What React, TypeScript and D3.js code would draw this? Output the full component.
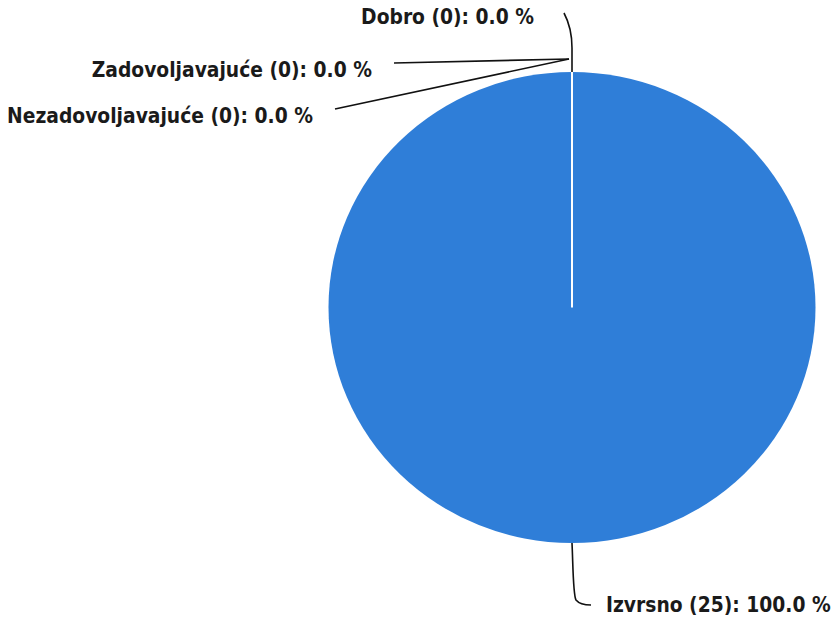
import * as d3 from 'd3';
import React, { useEffect, useRef } from 'react';

// ocjene i broj odgovora
const categories = ['Nezadovoljavajuće', 'Zadovoljavajuće', 'Dobro', 'Izvrsno'];
const values = [0, 0, 0, 25];
const colors = ['#2f7ed8', '#0d233a', '#8bbc21', '#2f7ed8'];

// pomaci oznaka od točke na rubu (dx, dy), strana oznake
const labelOffsets: [number, number, 'left' | 'right'][] = [
  [-259, 44, 'left'],
  [-200, -2, 'left'],
  [-12, -55, 'left'],
  [34, 62, 'right'],
];

const W = 835;
const H = 618;

const App = () => {
  const svgRef = useRef<SVGSVGElement>(null);

  useEffect(() => {
    const cx = 572;
    const cy = 307.5;
    const r = 243.5;
    const ky = 235.5 / 243.5;

    const svg = d3.select(svgRef.current);
    svg.selectAll('*').remove();

    const data = categories.map((name, i) => ({ name, value: values[i], color: colors[i] }));
    const total = d3.sum(values);

    const pie = d3
      .pie<{ name: string; value: number; color: string }>()
      .sort(null)
      .value((d) => d.value);
    const arcs = pie(data);

    const arc = d3
      .arc<d3.PieArcDatum<{ name: string; value: number; color: string }>>()
      .innerRadius(0)
      .outerRadius(r);

    const g = svg.append('g').attr('transform', `translate(${cx},${cy}) scale(1,${ky})`);

    g.selectAll('path.slice')
      .data(arcs.filter((a) => a.value > 0))
      .join('path')
      .attr('class', 'slice')
      .attr('d', arc)
      .attr('fill', (d) => d.data.color);

    // rub isječka (bijela linija)
    arcs
      .filter((a) => a.value > 0)
      .forEach((a) => {
        g.append('line')
          .attr('x1', 0)
          .attr('y1', 0)
          .attr('x2', r * Math.sin(a.startAngle))
          .attr('y2', -r * Math.cos(a.startAngle))
          .attr('stroke', '#fff')
          .attr('stroke-width', 2);
      });

    const labels = svg.append('g');
    arcs.forEach((a, i) => {
      const mid = a.value > 0 ? (a.startAngle + a.endAngle) / 2 : a.startAngle;
      const ex = cx + r * Math.sin(mid);
      const ey = cy - r * ky * Math.cos(mid);
      const [dx, dy, side] = labelOffsets[i];
      const lx = ex + dx;
      const ly = ey + dy;
      let path: string;
      if (side === 'right') {
        path = `M${ex},${ey} C${ex + 1},${ey + 20} ${ex + 1},${ly - 10} ${ex + 4},${ly - 5} Q${ex + 8},${ly} ${lx - 15},${ly}`;
      } else if (i === 2) {
        path = `M${ex},${ey} L${ex},${ey - 24} Q${ex},${ey - 44} ${ex - 8},${ly - 4}`;
      } else {
        path = `M${ex - 3},${ey - 13} L${lx + 22},${ly - 7}`;
      }
      labels
        .append('path')
        .attr('d', path)
        .attr('fill', 'none')
        .attr('stroke', '#111')
        .attr('stroke-width', 1.6);
      const pct = total ? (a.data.value / total) * 100 : 0;
      labels
        .append('text')
        .attr('x', side === 'right' ? lx : lx - (i === 2 ? 26 : 0))
        .attr('y', ly)
        .attr('dy', '0.36em')
        .attr('text-anchor', side === 'right' ? 'start' : 'end')
        .attr('font-family', '"DejaVu Sans Condensed", "DejaVu Sans", sans-serif')
        .attr('font-weight', 'bold')
        .attr('font-size', 20.8)
        .attr('fill', '#1a1a1a')
        .text(`${a.data.name} (${a.data.value}): ${pct.toFixed(1)} %`);
    });
  }, []);

  return (
    <svg
      ref={svgRef}
      width={W}
      height={H}
      style={{ position: 'absolute', left: 0, top: 0, background: '#fff' }}
    />
  );
};

export default App;
